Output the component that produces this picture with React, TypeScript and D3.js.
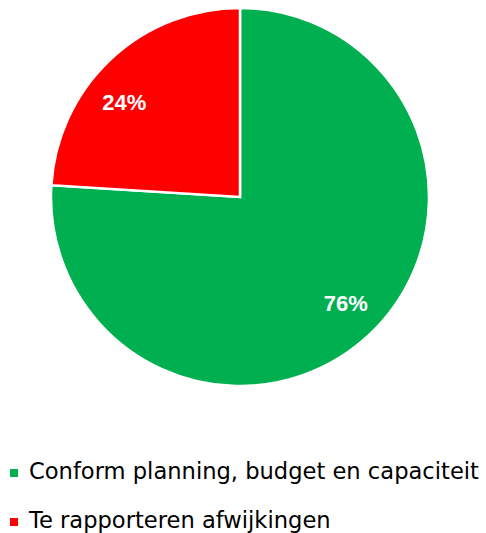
import React from "react";
import * as d3 from "d3";

const categories = ["Conform planning, budget en capaciteit", "Te rapporteren afwijkingen"];
const values = [76, 24];
const colors = ["#00B050", "#FF0000"];
const labels = ["76%", "24%"];

const W = 486, H = 533;
const cx = 240, cy = 197, R = 189;
const labelNudge = [[3, -3], [-13, 15]];

export default function App() {
  const pie = d3.pie<number>().value(d => d).sort(null)(values);
  const arc = d3.arc<d3.PieArcDatum<number>>().innerRadius(0).outerRadius(R);
  const labelArc = d3.arc<d3.PieArcDatum<number>>().innerRadius(150).outerRadius(150);
  return (
    <svg width={W} height={H} style={{ position: "absolute", left: 0, top: 0 }}>
      <g transform={`translate(${cx},${cy})`}>
        {pie.map((p, i) => (
          <path key={i} d={arc(p) as string} fill={colors[i]} stroke="#fff" strokeWidth={2.5} strokeLinejoin="miter" />
        ))}
        {pie.map((p, i) => {
          const [x, y] = labelArc.centroid(p);
          return (
            <text key={i} x={x + labelNudge[i][0]} y={y + labelNudge[i][1]} textAnchor="middle" dominantBaseline="central"
              fill="#fff" fontFamily="Liberation Sans, Arial, sans-serif" fontWeight="bold" fontSize={22}>
              {labels[i]}
            </text>
          );
        })}
      </g>
      {categories.map((c, i) => (
        <g key={i} transform={`translate(0,${479 + i * 49})`}>
          <rect x={10} y={-10} width={8} height={8} fill={colors[i]} />
          <text x={29} y={0} fontFamily="DejaVu Sans, sans-serif" fontSize={22.6} fill="#000">{c}</text>
        </g>
      ))}
    </svg>
  );
}
